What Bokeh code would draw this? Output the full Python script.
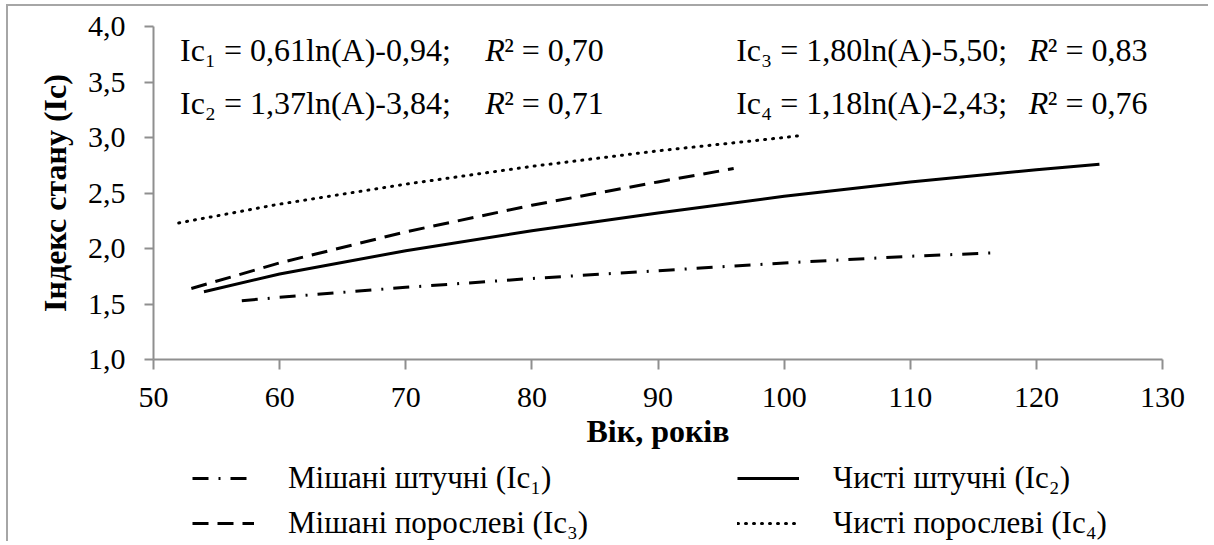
from bokeh.plotting import figure
from bokeh.layouts import column
from bokeh.models import FixedTicker, CustomJSTickFormatter, Legend, LegendItem, Label, Range1d
from bokeh.embed import file_html
from bokeh.resources import INLINE

# ---------------- data ----------------
age_ic1 = [57, 60, 70, 80, 90, 100, 110, 116.5]
ic1 = [1.53, 1.56, 1.65, 1.73, 1.80, 1.87, 1.93, 1.96]

age_ic2 = [54, 60, 70, 80, 90, 100, 110, 120, 125]
ic2 = [1.61, 1.77, 1.98, 2.16, 2.32, 2.47, 2.60, 2.71, 2.76]

age_ic3 = [53, 60, 70, 80, 90, 96]
ic3 = [1.64, 1.87, 2.15, 2.39, 2.60, 2.72]

age_ic4 = [52, 60, 70, 80, 90, 100, 101.5]
ic4 = [2.23, 2.40, 2.58, 2.74, 2.88, 3.00, 3.02]

x_ticks = [50, 60, 70, 80, 90, 100, 110, 120, 130]
y_ticks = [1.0, 1.5, 2.0, 2.5, 3.0, 3.5, 4.0]

legend_names = ["Мішані штучні (Іс₁)", "Чисті штучні (Іс₂)",
                "Мішані порослеві (Іс₃)", "Чисті порослеві (Іс₄)"]
formula_texts = ["Ic₁ = 0,61ln(A)-0,94;", "Ic₂ = 1,37ln(A)-3,84;",
                 "Ic₃ = 1,80ln(A)-5,50;", "Ic₄ = 1,18ln(A)-2,43;"]
r2_texts = ["² = 0,70", "² = 0,71", "² = 0,83", "² = 0,76"]

x_title = "Вік, років"
y_title = "Індекс стану (Іс)"

FONT = "Liberation Serif"
AXIS_COLOR = "#8f8f8f"
STYLES = [dict(line_dash="16 10 2 10"), dict(), dict(line_dash="16 9"),
          dict(line_dash="1 7", line_cap="round")]

# ---------------- main plot ----------------
p = figure(frame_width=1009, frame_height=333,
           min_border_left=145, min_border_right=46,
           min_border_top=20, min_border_bottom=100,
           x_range=Range1d(50, 130), y_range=Range1d(1.0, 4.0),
           output_backend="svg", toolbar_location=None)

p.xgrid.visible = False
p.ygrid.visible = False
p.outline_line_color = None

p.xaxis.ticker = FixedTicker(ticks=x_ticks)
p.yaxis.ticker = FixedTicker(ticks=y_ticks)
p.yaxis.formatter = CustomJSTickFormatter(code="return tick.toFixed(1).replace('.', ',');")
for ax in (p.xaxis[0], p.yaxis[0]):
    ax.axis_line_color = AXIS_COLOR
    ax.axis_line_width = 2
    ax.major_tick_line_color = AXIS_COLOR
    ax.major_tick_line_width = 2
    ax.minor_tick_line_color = None
    ax.major_tick_in = 0
    ax.major_label_text_font = FONT
    ax.major_label_text_font_size = "30px"
    ax.major_label_text_color = "black"
    ax.axis_label_text_font = FONT
    ax.axis_label_text_font_size = "32px"
    ax.axis_label_text_font_style = "bold"
    ax.axis_label_text_color = "black"
p.xaxis.major_tick_out = 10
p.yaxis.major_tick_out = 9
p.xaxis.major_label_standoff = 18
p.yaxis.major_label_standoff = 19
p.xaxis.axis_label = x_title
p.yaxis.axis_label = y_title
p.xaxis.axis_label_standoff = 3
p.yaxis.axis_label_standoff = 12

series = [(age_ic1, ic1), (age_ic2, ic2), (age_ic3, ic3), (age_ic4, ic4)]
for (xs, ys), st in zip(series, STYLES):
    p.line(xs, ys, line_color="black", line_width=3, **st)

# regression equations
eq_x = [52.1, 52.1, 96.2, 96.2]
eq_y = [3.787, 3.31, 3.787, 3.31]
r_x = [76.3, 76.3, 119.4, 119.4]
for i in range(4):
    p.add_layout(Label(x=eq_x[i], y=eq_y[i], text=formula_texts[i], text_font=FONT,
                       text_font_size="32px", text_baseline="alphabetic", text_color="black"))
    p.add_layout(Label(x=r_x[i], y=eq_y[i], text="R", text_font=FONT, text_font_style="italic",
                       text_font_size="32px", text_baseline="alphabetic", text_color="black"))
    p.add_layout(Label(x=r_x[i], y=eq_y[i], x_offset=19, text=r2_texts[i], text_font=FONT,
                       text_font_size="32px", text_baseline="alphabetic", text_color="black"))

# ---------------- legend strip (same series and line styles; data lies outside its view) ----------------
lg = figure(frame_width=1009, frame_height=82,
            min_border_left=145, min_border_right=46,
            min_border_top=0, min_border_bottom=0,
            x_range=Range1d(0, 1), y_range=Range1d(0, 1),
            x_axis_type=None, y_axis_type=None,
            output_backend="svg", toolbar_location=None)
lg.xgrid.visible = False
lg.ygrid.visible = False
lg.outline_line_color = None
keys = [lg.line(xs, ys, line_color="black", line_width=3, **st)
        for (xs, ys), st in zip(series, STYLES)]

legend = Legend(items=[LegendItem(label=name, renderers=[r]) for name, r in zip(legend_names, keys)],
                orientation="horizontal", nrows=2, ncols=2, location=(39, 0),
                label_text_font=FONT, label_text_font_size="31px",
                label_text_color="black", glyph_width=62, glyph_height=36,
                label_height=36, label_width=440, label_standoff=34, spacing=9,
                padding=0, margin=0, border_line_color=None, background_fill_alpha=0)
lg.add_layout(legend)

layout = column(p, lg, spacing=0,
                styles={"margin-left": "6px", "margin-top": "4px",
                        "border-left": "2px solid #a6a6a6", "border-top": "2px solid #a6a6a6"})

open("out.html", "w").write(file_html(layout, INLINE))
